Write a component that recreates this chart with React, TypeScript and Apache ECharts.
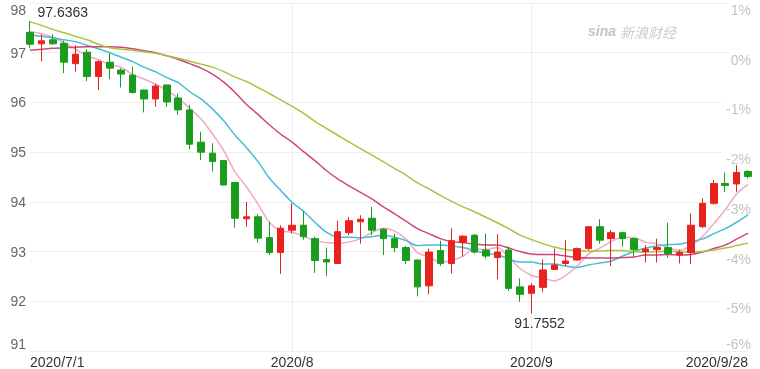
import React, { useEffect, useRef } from 'react';
import * as echarts from 'echarts';

const dates = [
  '2020/7/1', '2020/7/2', '2020/7/3', '2020/7/6', '2020/7/7', '2020/7/8', '2020/7/9', '2020/7/10',
  '2020/7/13', '2020/7/14', '2020/7/15', '2020/7/16', '2020/7/17', '2020/7/20', '2020/7/21', '2020/7/22',
  '2020/7/23', '2020/7/24', '2020/7/27', '2020/7/28', '2020/7/29', '2020/7/30', '2020/7/31',
  '2020/8/3', '2020/8/4', '2020/8/5', '2020/8/6', '2020/8/7', '2020/8/10', '2020/8/11', '2020/8/12',
  '2020/8/13', '2020/8/14', '2020/8/17', '2020/8/18', '2020/8/19', '2020/8/20', '2020/8/21', '2020/8/24',
  '2020/8/25', '2020/8/26', '2020/8/27', '2020/8/28', '2020/8/31',
  '2020/9/1', '2020/9/2', '2020/9/3', '2020/9/4', '2020/9/7', '2020/9/8', '2020/9/9', '2020/9/10',
  '2020/9/11', '2020/9/14', '2020/9/15', '2020/9/16', '2020/9/17', '2020/9/18', '2020/9/21', '2020/9/22',
  '2020/9/23', '2020/9/24', '2020/9/25', '2020/9/28',
];

const openP = [
  97.41, 97.18, 97.26, 97.19, 96.78, 97.01, 96.52, 96.81, 96.65, 96.55,
  96.25, 96.07, 96.35, 96.09, 95.85, 95.20, 94.98, 94.83, 94.39, 93.66,
  93.70, 93.28, 92.98, 93.43, 93.53, 93.26, 92.84, 92.76, 93.38, 93.60,
  93.67, 93.45, 93.26, 93.08, 92.83, 92.31, 93.02, 92.76, 93.18, 93.33,
  93.03, 92.88, 93.03, 92.29, 92.16, 92.28, 92.64, 92.76, 92.83, 93.06,
  93.50, 93.26, 93.38, 93.26, 93.00, 93.04, 93.08, 92.93, 92.98, 93.50,
  93.97, 94.37, 94.36, 94.61,
];
const closeP = [
  97.17, 97.24, 97.18, 96.81, 96.97, 96.52, 96.82, 96.69, 96.57, 96.20,
  96.07, 96.33, 96.01, 95.85, 95.16, 95.00, 94.81, 94.34, 93.67, 93.70,
  93.27, 92.98, 93.47, 93.53, 93.30, 92.82, 92.79, 93.40, 93.62, 93.65,
  93.43, 93.26, 93.08, 92.82, 92.29, 92.99, 92.76, 93.22, 93.31, 92.99,
  92.91, 92.99, 92.26, 92.14, 92.31, 92.63, 92.73, 92.81, 93.06, 93.50,
  93.23, 93.38, 93.26, 93.04, 93.05, 93.08, 92.96, 92.98, 93.53, 93.97,
  94.37, 94.33, 94.59, 94.51,
];
const lowP = [
  97.09, 96.83, 97.16, 96.59, 96.62, 96.43, 96.25, 96.47, 96.30, 96.18,
  95.80, 95.91, 95.91, 95.75, 95.06, 94.84, 94.61, 94.33, 93.48, 93.50,
  93.18, 92.93, 92.55, 93.36, 93.24, 92.57, 92.51, 92.75, 93.33, 93.16,
  93.33, 92.93, 92.99, 92.75, 92.10, 92.14, 92.71, 92.56, 92.90, 92.96,
  92.86, 92.44, 92.21, 91.99, 91.7552, 92.19, 92.63, 92.71, 92.82, 93.03,
  93.16, 92.71, 93.10, 92.90, 92.78, 92.78, 92.88, 92.76, 92.75, 93.47,
  93.94, 94.20, 94.20, 94.47,
];
const highP = [
  97.6363, 97.37, 97.37, 97.24, 97.15, 97.07, 96.85, 96.99, 96.69, 96.72,
  96.26, 96.38, 96.36, 96.18, 95.95, 95.41, 95.18, 94.84, 94.40, 94.00,
  93.75, 93.60, 93.53, 93.97, 93.82, 93.30, 93.08, 93.62, 93.70, 93.73,
  93.90, 93.47, 93.36, 93.11, 92.84, 93.06, 93.22, 93.47, 93.33, 93.35,
  93.36, 93.35, 93.10, 92.46, 92.36, 92.84, 93.06, 93.23, 93.08, 93.51,
  93.65, 93.43, 93.40, 93.28, 93.13, 93.26, 93.58, 93.04, 93.77, 94.07,
  94.44, 94.59, 94.74, 94.64,
];

const ma5 = [
  97.42, 97.38, 97.31, 97.20, 97.07, 96.94, 96.86, 96.76, 96.71, 96.56,
  96.47, 96.37, 96.24, 96.09, 95.88, 95.67, 95.37, 95.03, 94.60, 94.30,
  93.96, 93.59, 93.42, 93.39, 93.31, 93.22, 93.18, 93.17, 93.19, 93.26,
  93.38, 93.47, 93.41, 93.25, 92.98, 92.89, 92.79, 92.82, 92.91, 93.05,
  93.04, 93.08, 92.89, 92.66, 92.52, 92.47, 92.41, 92.52, 92.71, 92.95,
  93.07, 93.20, 93.29, 93.28, 93.19, 93.16, 93.08, 93.02, 93.12, 93.30,
  93.56, 93.84, 94.16, 94.35,
];
const ma10 = [
  97.36, 97.33, 97.30, 97.26, 97.22, 97.15, 97.08, 97.00, 96.91, 96.82,
  96.71, 96.62, 96.50, 96.40, 96.22, 96.07, 95.87, 95.63, 95.34, 95.09,
  94.81, 94.48, 94.23, 93.99, 93.81, 93.59, 93.39, 93.29, 93.29, 93.28,
  93.30, 93.33, 93.29, 93.22, 93.12, 93.13, 93.13, 93.11, 93.08, 93.02,
  92.96, 92.94, 92.85, 92.79, 92.79, 92.75, 92.75, 92.71, 92.68, 92.73,
  92.77, 92.81, 92.91, 93.00, 93.07, 93.11, 93.14, 93.15, 93.20, 93.25,
  93.36, 93.46, 93.59, 93.74,
];
const ma20 = [
  97.05, 97.07, 97.09, 97.10, 97.11, 97.12, 97.12, 97.12, 97.11, 97.08,
  97.04, 97.00, 96.94, 96.87, 96.78, 96.69, 96.57, 96.41, 96.20, 95.96,
  95.76, 95.55, 95.36, 95.20, 95.01, 94.83, 94.63, 94.46, 94.32, 94.19,
  94.06, 93.90, 93.76, 93.61, 93.46, 93.36, 93.26, 93.20, 93.18, 93.15,
  93.13, 93.13, 93.07, 93.00, 92.95, 92.94, 92.94, 92.91, 92.88, 92.87,
  92.87, 92.87, 92.88, 92.89, 92.93, 92.93, 92.94, 92.93, 92.94, 92.99,
  93.06, 93.13, 93.25, 93.37,
];
const ma30 = [
  97.62, 97.55, 97.47, 97.40, 97.33, 97.26, 97.17, 97.10, 97.07, 97.05,
  97.02, 96.99, 96.94, 96.89, 96.83, 96.77, 96.71, 96.62, 96.51, 96.42,
  96.30, 96.18, 96.05, 95.92, 95.78, 95.62, 95.48, 95.34, 95.20, 95.07,
  94.94, 94.81, 94.67, 94.54, 94.38, 94.26, 94.13, 94.01, 93.90, 93.80,
  93.69, 93.58, 93.46, 93.33, 93.24, 93.16, 93.09, 93.04, 93.02, 93.01,
  93.01, 93.02, 93.02, 93.00, 92.99, 93.00, 93.01, 92.99, 92.99, 93.00,
  93.03, 93.07, 93.12, 93.17,
];

const xTickIndex = [0, 23, 44, 63];
const xTickText = ['2020/7/1', '2020/8', '2020/9', '2020/9/28'];
const xGridIndex = [23, 44];
const maxMark = { index: 0, value: 97.6363 };
const minMark = { index: 44, value: 91.7552 };

const FONT = '"Liberation Sans", Arial, sans-serif';
const RIGHT_LABEL = '#c4c4c4';

export default function App() {
  const ref = useRef<HTMLDivElement>(null);
  useEffect(() => {
    if (!ref.current) return;
    const chart = echarts.init(ref.current, null, { renderer: 'svg' });
    const kData = dates.map((_, i) => [openP[i], closeP[i], lowP[i], highP[i]]);
    const lineSeries = (name: string, data: number[], color: string) => ({
      name,
      type: 'line',
      data,
      symbol: 'none',
      smooth: 0.3,
      lineStyle: { color, width: 1.5 },
      z: 3,
    });
    chart.setOption({
      animation: false,
      textStyle: { fontFamily: FONT },
      grid: { left: 30, right: 12, top: 3, bottom: 18, containLabel: false, outerBoundsMode: 'none' },
      xAxis: {
        type: 'category',
        data: dates,
        boundaryGap: false,
        axisLine: { show: false },
        axisTick: { show: false },
        axisLabel: {
          color: '#333',
          fontSize: 14,
          fontFamily: FONT,
          margin: 4,
          interval: (i: number) => xTickIndex.includes(i),
          formatter: (_v: string, i: number) => {
            const k = xTickIndex.indexOf(i);
            return k >= 0 ? xTickText[k] : '';
          },
          alignMinLabel: 'left',
          alignMaxLabel: 'right',
        },
        splitLine: {
          show: true,
          interval: (i: number) => xGridIndex.includes(i),
          lineStyle: { color: '#eeeeee', width: 1 },
        },
      },
      yAxis: [
        {
          type: 'value',
          min: 91,
          max: 98,
          interval: 1,
          position: 'left',
          axisLine: { show: false },
          axisTick: { show: false },
          splitLine: { show: true, lineStyle: { color: '#eeeeee', width: 1 } },
          axisLabel: {
            margin: 4,
            color: '#666',
            fontSize: 14,
            fontFamily: FONT,
            formatter: (v: number) => (v === 98 ? `{t|${v}}` : v === 91 ? `{b|${v}}` : `{m|${v}}`),
            rich: {
              t: { padding: [14, 0, 0, 0], color: '#666', fontSize: 14, fontFamily: FONT },
              b: { padding: [0, 0, 14, 0], color: '#666', fontSize: 14, fontFamily: FONT },
              m: { color: '#666', fontSize: 14, fontFamily: FONT },
            },
          },
        },
        {
          type: 'value',
          min: -6,
          max: 1,
          interval: 1,
          position: 'right',
          z: 1,
          axisLine: { show: false },
          axisTick: { show: false },
          splitLine: { show: false },
          axisLabel: {
            inside: true,
            margin: -3,
            color: RIGHT_LABEL,
            fontSize: 14,
            fontFamily: FONT,
            formatter: (v: number) => (v === -6 ? `{b|${v}%}` : `{t|${v}%}`),
            rich: {
              t: { padding: [14, 0, 0, 4], color: RIGHT_LABEL, fontSize: 14, fontFamily: FONT, backgroundColor: '#ffffff' },
              b: { padding: [0, 0, 14, 4], color: RIGHT_LABEL, fontSize: 14, fontFamily: FONT },
            },
          },
        },
      ],
      series: [
        {
          name: 'K',
          type: 'candlestick',
          data: kData,
          barWidth: 7,
          clip: false,
          z: 4,
          itemStyle: {
            color: '#e8231f',
            color0: '#1a9c1c',
            borderColor: '#e8231f',
            borderColor0: '#1a9c1c',
            borderWidth: 1,
          },
          markPoint: {
            symbol: 'circle',
            symbolSize: 1,
            itemStyle: { color: 'rgba(0,0,0,0)' },
            label: { color: '#333', fontSize: 14, fontFamily: FONT },
            data: [
              {
                coord: [dates[maxMark.index], maxMark.value],
                value: maxMark.value,
                label: { show: true, position: 'right', distance: 7, offset: [0, -9], formatter: () => maxMark.value.toFixed(4) },
              },
              {
                coord: [dates[minMark.index], minMark.value],
                value: minMark.value,
                label: { show: true, position: 'bottom', distance: 2, offset: [8, 0], formatter: () => minMark.value.toFixed(4) },
              },
            ],
          },
        },
        lineSeries('MA5', ma5, '#f2a7c3'),
        lineSeries('MA10', ma10, '#45bed6'),
        lineSeries('MA20', ma20, '#d0467a'),
        lineSeries('MA30', ma30, '#a8c43e'),
      ],
      graphic: [
        {
          type: 'text',
          left: 588,
          top: 24,
          style: { text: 'sina', fill: '#c4c4c4', font: `italic bold 14px ${FONT}` },
        },
        {
          type: 'text',
          left: 620,
          top: 25,
          style: { text: '新浪财经', fill: '#cccccc', font: 'italic 14px "Noto Sans CJK SC", sans-serif' },
        },
      ],
    });
    return () => chart.dispose();
  }, []);
  return <div ref={ref} style={{ position: 'fixed', left: 0, top: 0, width: 760, height: 369 }} />;
}
